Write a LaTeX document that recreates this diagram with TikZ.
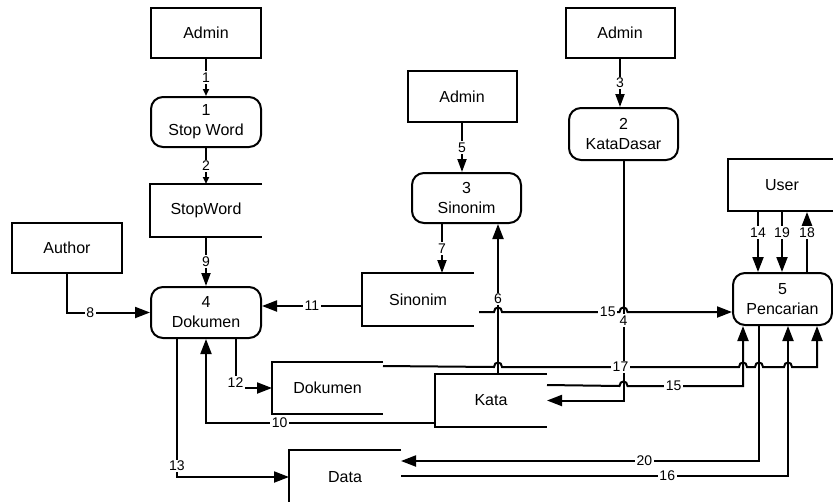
\documentclass[tikz,border=0pt]{standalone}
\usepackage{fontspec}
\setmainfont{Liberation Sans}
\usetikzlibrary{arrows.meta,calc}
\newcommand{\nodefont}{\fontsize{16}{20}\selectfont}
\newcommand{\lblfont}{\fontsize{14}{16}\selectfont}
\begin{document}
\begin{tikzpicture}[x=1pt,y=-1pt,line width=2pt,
  ent/.style={draw,minimum width=110pt,minimum height=50pt,inner sep=0pt,font=\nodefont,align=center},
  proc/.style={ent,rounded corners=12pt},
  store/.style={minimum width=110pt,minimum height=51pt,inner sep=0pt,font=\nodefont},
  arrbig/.style={-{Triangle[length=15pt,width=11pt]}},
  arrmid/.style={-{Triangle[length=13pt,width=9pt]}},
  arrtiny/.style={-{Triangle[length=7pt,width=6pt]}},
  lbl/.style={fill=white,inner sep=1.5pt,font=\lblfont},
  bump/.style={to path={.. controls ($(\tikztostart)+(0,-6)$) and ($(\tikztotarget)+(0,-6)$) .. (\tikztotarget)}}
]
\useasboundingbox (0,0) rectangle (833,501);

% nodes
\node[ent] (admin1) at (206,33) {Admin};
\node[proc] (p1) at (206,122) {1\\Stop Word};
\node[store] (sw) at (206,210.5) {StopWord};
\node[ent] (author) at (67,248) {Author};
\node[proc,minimum height=51pt] (p4) at (206,312.5) {4\\Dokumen};
\node[store] (sinS) at (418,299.5) {Sinonim};
\node[proc,minimum width=109pt] (p3) at (466.5,198) {3\\Sinonim};
\node[ent,minimum width=109pt,minimum height=51pt] (admin3) at (462,96.5) {Admin};
\node[ent,minimum width=109pt] (admin2) at (620,33) {Admin};
\node[proc,minimum width=109pt,minimum height=52pt] (p2) at (623.5,134) {2\\KataDasar};
\node[store] (kata) at (491,400.5) {Kata};
\node[store,minimum width=109pt,minimum height=50pt] (dokS) at (327.5,388) {Dokumen};
\node[store,minimum height=52pt] (dataS) at (345,477) {Data};
\node[ent,minimum width=108pt,minimum height=52pt] (user) at (782,185) {User};
\node[proc,minimum width=99pt,minimum height=52pt] (p5) at (782.5,299) {5\\Pencarian};

% open-ended stores
\foreach \s in {sw,sinS,kata,dokS,dataS}
  \draw (\s.north east) -- (\s.north west) -- (\s.south west) -- (\s.south east);

% helper coordinates
\coordinate (a7) at ($(p3.south)+(-24.5,0)$);
\coordinate (a6) at ($(kata.north)+(7,0)$);
\coordinate (s15a) at ($(sinS.east)+(5,12.5)$);
\coordinate (e15a) at ($(p5.west)+(0,13)$);
\coordinate (s17) at ($(dokS.north east)+(0,4)$);
\coordinate (e17) at ($(p5.south)+(34.5,0)$);
\coordinate (s15b) at ($(kata.north east)+(0,11)$);
\coordinate (e15b) at ($(p5.south)+(-39.5,0)$);
\coordinate (s20) at ($(p5.south)+(-23.5,0)$);
\coordinate (e20) at ($(dataS.north east)+(0,11)$);
\coordinate (s16) at ($(dataS.north east)+(0,26)$);
\coordinate (e16) at ($(p5.south)+(5.5,0)$);
\coordinate (s10) at ($(kata.south west)+(0,-4)$);
\coordinate (s12) at ($(p4.south)+(29.5,0)$);
\coordinate (s13) at ($(p4.south)+(-29,0)$);
\coordinate (a14) at ($(user.south)+(-24,0)$);
\coordinate (a18) at ($(user.south)+(25,0)$);

% flows
\draw[arrtiny] (admin1) -- node[lbl]{1} (p1);
\draw[arrtiny] (p1) -- node[lbl]{2} (sw);
\draw[arrmid] (sw) -- node[lbl]{9} (p4);
\draw[arrbig] (author.south) |- node[lbl,pos=0.64]{8} (p4.west);
\draw[arrbig] ($(sinS.west)+(0,6.5)$) -- node[lbl]{11} ($(p4.east)+(0,-6.5)$);
\draw[arrmid] (admin3.south) -- node[lbl]{5} (admin3.south |- p3.north);
\draw[arrmid] (admin2.south) -- node[lbl]{3} (admin2.south |- p2.north);
\draw[arrmid] (a7) -- node[lbl]{7} (a7 |- sinS.north);
\draw[arrbig] (a6) -- node[lbl]{6} (a6 |- p3.south);
\draw[arrbig] (p2.south) |- node[lbl,pos=0.333]{4} (kata.east);
\draw[arrbig] (s15a) -- (494,312) to[bump] (502,312) -- node[lbl,pos=0.9]{15} (619.5,312) to[bump] (627.5,312) -- (e15a);
\draw[arrbig] (s17) -- (494,367) to[bump] (502,367) -- node[lbl]{17} (739,367) to[bump] (747,367) -- (755,367) to[bump] (763,367) -- (784,367) to[bump] (792,367) -| (e17);
\draw[arrbig] (s15b) -- (619.5,386) to[bump] (627.5,386) -| node[lbl,pos=0.2]{15} (e15b);
\draw[arrbig] (s20) |- node[lbl,pos=0.66]{20} (e20);
\draw[arrbig] (s16) -| node[lbl,pos=0.344]{16} (e16);
\draw[arrbig] (s10) -| node[lbl,pos=0.339]{10} (p4.south);
\draw[arrbig] (s12) |- node[lbl,pos=0.44]{12} (dokS.west);
\draw[arrbig] (s13) |- node[lbl,pos=0.46]{13} (dataS.west);
\draw[arrbig] (a14) -- node[lbl,pos=0.34]{14} (a14 |- p5.north);
\draw[arrbig] (user.south) -- node[lbl,pos=0.34]{19} (user.south |- p5.north);
\draw[arrbig] (a18 |- p5.north) -- node[lbl,pos=0.66]{18} (a18);
\end{tikzpicture}
\end{document}
